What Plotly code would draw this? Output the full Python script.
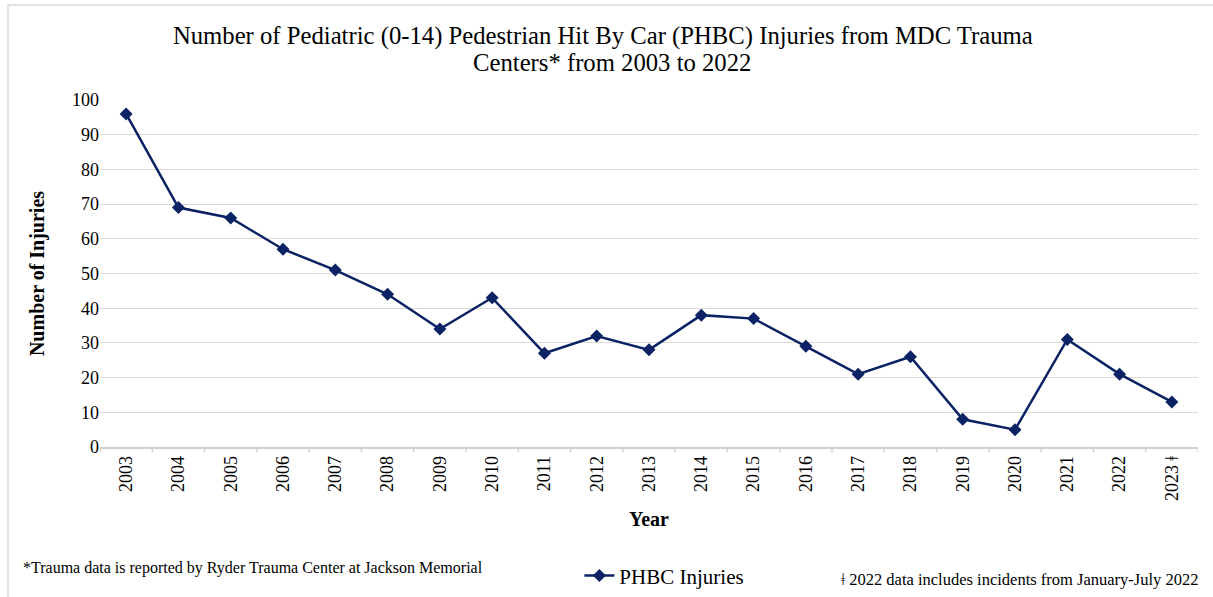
import plotly.graph_objects as go

years = ["2003", "2004", "2005", "2006", "2007", "2008", "2009", "2010", "2011", "2012",
         "2013", "2014", "2015", "2016", "2017", "2018", "2019", "2020", "2021", "2022", "2023 ǂ"]
injuries = [96, 69, 66, 57, 51, 44, 34, 43, 27, 32, 28, 38, 37, 29, 21, 26, 8, 5, 31, 21, 13]
y_ticks = [0, 10, 20, 30, 40, 50, 60, 70, 80, 90, 100]
title_lines = ["Number of Pediatric (0-14) Pedestrian Hit By Car (PHBC) Injuries from MDC Trauma",
               "Centers* from 2003 to 2022"]

FONT = "Liberation Serif, Times New Roman, serif"
NAVY = "#0b2265"

fig = go.Figure()
fig.add_trace(go.Scatter(
    x=list(range(len(years))), y=injuries, mode="lines+markers", name="PHBC Injuries",
    line=dict(color=NAVY, width=2.5),
    marker=dict(symbol="diamond", size=10, color=NAVY),
))

fig.update_layout(
    width=1213, height=597,
    margin=dict(l=100, r=15, t=100, b=150, autoexpand=False),
    paper_bgcolor="white", plot_bgcolor="white",
    font=dict(family=FONT, color="#000000", size=18),
    title=dict(text=title_lines[0],
               x=0.497, xanchor="center", yref="container", y=1 - 35 / 597, yanchor="middle",
               font=dict(family=FONT, size=24.7, color="#000000")),
    showlegend=True,
    legend=dict(orientation="h", x=0.514, xanchor="center", y=-0.371, yanchor="middle",
                font=dict(family=FONT, size=21), bgcolor="rgba(0,0,0,0)"),
    xaxis=dict(
        tickmode="array", tickvals=list(range(len(years))), ticktext=years,
        range=[-0.5, len(years) - 0.5], tickangle=-90,
        showgrid=False, showline=True, linecolor="#d0d0d0", linewidth=1.5,
        ticks="", zeroline=False, automargin=False,
        tickfont=dict(family=FONT, size=18),
        title=dict(text="<b>Year</b>", font=dict(family=FONT, size=20), standoff=12),
    ),
    yaxis=dict(
        range=[0, 100], tickmode="array", tickvals=y_ticks,
        showgrid=True, gridcolor="#d9d9d9", gridwidth=1, zeroline=False,
        showline=False, ticks="", automargin=False, tickfont=dict(family=FONT, size=18),
        title=dict(text="<b>Number of Injuries</b>", font=dict(family=FONT, size=20), standoff=22),
    ),
)

fig.add_annotation(text=title_lines[1], xref="paper", yref="paper",
                   x=(612 - 100) / 1098, xanchor="center", y=1 + (100 - 63) / 347, yanchor="middle",
                   showarrow=False, font=dict(family=FONT, size=24.7, color="#000000"))

# category boundary tick marks below axis
for i in range(len(years) + 1):
    fig.add_shape(type="line", xref="x", yref="paper", x0=i - 0.5, x1=i - 0.5, y0=0, y1=-0.015,
                  line=dict(color="#d0d0d0", width=1.5))

# chart border
fig.add_shape(type="rect", xref="paper", yref="paper", x0=-0.0838, x1=1.02, y0=-0.47, y1=1.274,
              line=dict(color="#d9d9d9", width=1.5), layer="below")

fig.add_annotation(text="*Trauma data is reported by Ryder Trauma Center at Jackson Memorial",
                   xref="paper", yref="paper", x=-0.072, y=-0.349, xanchor="left", yanchor="middle",
                   showarrow=False, font=dict(family=FONT, size=16))
fig.add_annotation(text="ǂ 2022 data includes incidents from January-July 2022",
                   xref="paper", yref="paper", x=1.002, y=-0.383, xanchor="right", yanchor="middle",
                   showarrow=False, font=dict(family=FONT, size=16.5))

fig.write_html("out.html")
